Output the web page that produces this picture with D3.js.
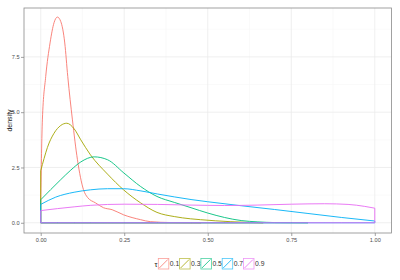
<!DOCTYPE html>
<html><head><meta charset="utf-8">
<script src="https://cdn.jsdelivr.net/npm/d3@7"></script>
<style>body{margin:0;background:#fff}svg{display:block}text{font-family:"Liberation Sans",Arial,sans-serif}</style>
</head><body>
<svg id="c" width="400" height="280"></svg>
<script>
const taus = ["0.1","0.3","0.5","0.7","0.9"];
const colors = ["#F8766D","#A3A500","#00BF7D","#00B0F6","#E76BF3"];
const xTicks = [0, 0.25, 0.5, 0.75, 1];
const xTickLabels = ["0.00","0.25","0.50","0.75","1.00"];
const yTicks = [0, 2.5, 5, 7.5];
const yTickLabels = ["0.0","2.5","5.0","7.5"];

const d01 = [[0,1.0],[0.005,4.65],[0.015,6.61],[0.028,8.13],[0.04,9.05],[0.05,9.3],[0.06,9.1],[0.072,8.13],[0.081,6.61],[0.095,4.65],[0.11,2.85],[0.128,1.5],[0.14,1.15],[0.164,0.9],[0.188,0.68],[0.214,0.59],[0.248,0.36],[0.299,0.14],[0.328,0.05],[0.39,0.01],[0.48,0]];
const d03 = [[0,2.35],[0.01,2.9],[0.02,3.4],[0.04,4.05],[0.06,4.4],[0.078,4.5],[0.10,4.25],[0.12,3.75],[0.149,3.07],[0.2,2.2],[0.248,1.49],[0.299,0.9],[0.348,0.47],[0.4,0.28],[0.448,0.18],[0.478,0.14],[0.567,0.05],[0.666,0.0]];
const d05 = [[0,1.04],[0.03,1.5],[0.06,1.95],[0.09,2.38],[0.12,2.75],[0.16,2.98],[0.2,2.85],[0.249,2.25],[0.299,1.64],[0.348,1.19],[0.4,0.92],[0.45,0.68],[0.5,0.44],[0.55,0.24],[0.6,0.1],[0.65,0.04],[0.7,0.01],[0.8,0]];
const d07 = [[0,0.83],[0.045,1.16],[0.1,1.38],[0.149,1.49],[0.2,1.54],[0.248,1.54],[0.3,1.44],[0.35,1.3],[0.4,1.17],[0.45,1.05],[0.5,0.95],[0.6,0.77],[0.7,0.6],[0.8,0.42],[0.9,0.24],[1.0,0.08]];
const d09 = [[0,0.55],[0.05,0.64],[0.1,0.72],[0.15,0.79],[0.25,0.84],[0.35,0.83],[0.45,0.8],[0.55,0.78],[0.65,0.8],[0.75,0.84],[0.85,0.86],[0.92,0.83],[0.97,0.74],[1.0,0.66]];
const series = [d01,d03,d05,d07,d09];

const svg = d3.select("#c");
const L=24, R=391.5, T=8, B=233;
const x = d3.scaleLinear().domain([-0.05,1.05]).range([L,R]);
const y = d3.scaleLinear().domain([-0.4625,9.71]).range([B,T]);

// grid
const g = svg.append("g");
const minorX = [0.125,0.375,0.625,0.875], minorY=[1.25,3.75,6.25,8.75];
g.selectAll(".mx").data(minorX).enter().append("line").attr("x1",d=>x(d)).attr("x2",d=>x(d)).attr("y1",T).attr("y2",B).attr("stroke","#f7f7f7").attr("stroke-width",0.6);
g.selectAll(".my").data(minorY).enter().append("line").attr("y1",d=>y(d)).attr("y2",d=>y(d)).attr("x1",L).attr("x2",R).attr("stroke","#f7f7f7").attr("stroke-width",0.6);
g.selectAll(".Mx").data(xTicks).enter().append("line").attr("x1",d=>x(d)).attr("x2",d=>x(d)).attr("y1",T).attr("y2",B).attr("stroke","#ebebeb").attr("stroke-width",0.8);
g.selectAll(".My").data(yTicks).enter().append("line").attr("y1",d=>y(d)).attr("y2",d=>y(d)).attr("x1",L).attr("x2",R).attr("stroke","#ebebeb").attr("stroke-width",0.8);

// curves
const area = d3.area().x(d=>x(d[0])).y0(y(0)).y1(d=>y(d[1])).curve(d3.curveMonotoneX);
series.forEach((s,i)=>{
  svg.append("path").attr("d",area(s)).attr("fill","none").attr("stroke",colors[i]).attr("stroke-width",0.9);
});

// border
svg.append("rect").attr("x",L).attr("y",T).attr("width",R-L).attr("height",B-T).attr("fill","none").attr("stroke","#8a8a8a").attr("stroke-width",0.8);

// axes
const xa = svg.append("g").attr("transform",`translate(0,${B})`)
  .call(d3.axisBottom(x).tickValues(xTicks).tickFormat((d,i)=>xTickLabels[i]).tickSize(3).tickPadding(2));
const ya = svg.append("g").attr("transform",`translate(${L},0)`)
  .call(d3.axisLeft(y).tickValues(yTicks).tickFormat((d,i)=>yTickLabels[i]).tickSize(3).tickPadding(1.5));
[xa,ya].forEach(a=>{
  a.select(".domain").remove();
  a.selectAll(".tick line").attr("stroke","#8a8a8a").attr("stroke-width",0.8);
  a.selectAll(".tick text").attr("fill","#4d4d4d").style("font-size","5.6px").style("font-family","Liberation Sans, Arial, sans-serif");
});

svg.append("text").attr("transform",`translate(11.5,${(T+B)/2}) rotate(-90)`).attr("text-anchor","middle")
  .style("font-size","7px").attr("fill","#222").text("density");

// legend
const lg = svg.append("g");
const ly = 258.5;
lg.append("text").attr("x",156).attr("y",ly+8).attr("text-anchor","middle").style("font-size","7.5px").attr("fill","#222").text("τ");
taus.forEach((t,i)=>{
  const kx = 158.3 + i*21.3;
  lg.append("rect").attr("x",kx).attr("y",ly).attr("width",10.5).attr("height",10.5).attr("fill","#fff").attr("stroke",colors[i]).attr("stroke-opacity",0.7).attr("stroke-width",0.8);
  lg.append("line").attr("x1",kx+1).attr("y1",ly+9.5).attr("x2",kx+9.5).attr("y2",ly+1).attr("stroke",colors[i]).attr("stroke-width",0.8);
  lg.append("text").attr("x",kx+11.5).attr("y",ly+7.8).style("font-size","6.8px").attr("fill","#333").text(t);
});
</script>
</body></html>
